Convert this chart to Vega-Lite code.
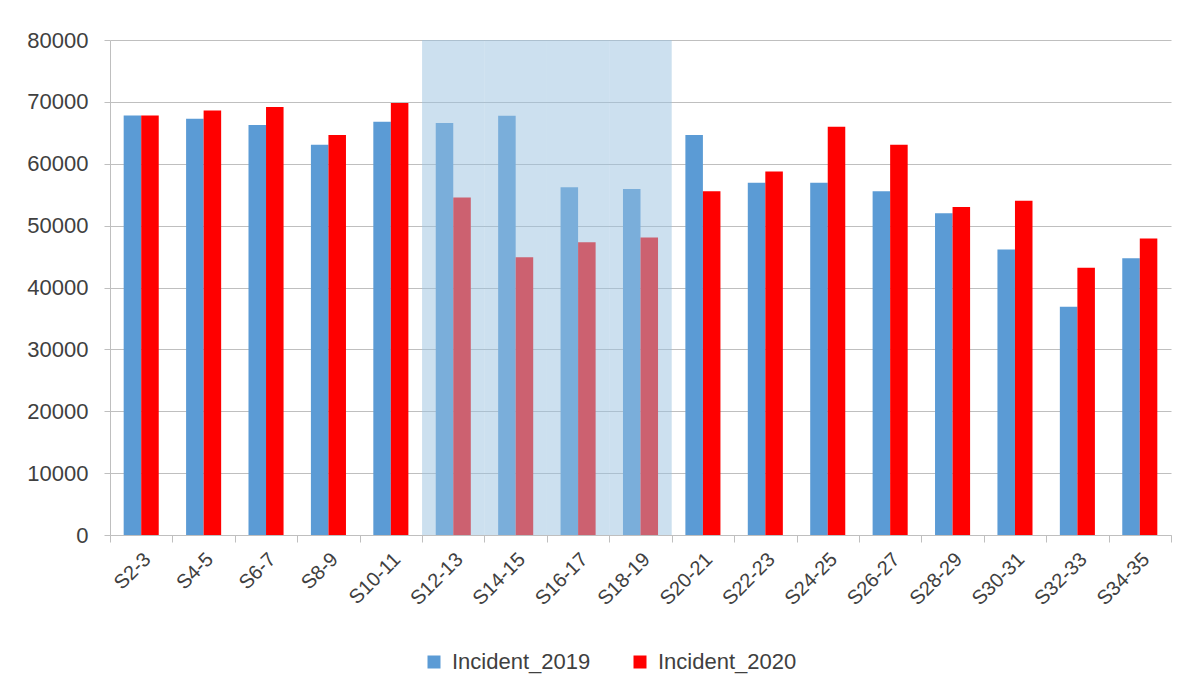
{
  "$schema": "https://vega.github.io/schema/vega-lite/v6.json",
  "autosize": {"type": "none"},
  "width": 1061,
  "height": 495,
  "padding": {"left": 110, "top": 40, "right": 15, "bottom": 158},
  "background": "white",
  "config": {
    "font": "Liberation Sans",
    "view": {"stroke": null},
    "axis": {"labelColor": "#404040", "labelFontSize": 22, "domainColor": "#bfbfbf", "tickColor": "#bfbfbf", "gridColor": "#bfbfbf"}
  },
  "datasets": {
    "incidents": [
      {"period": "S2-3", "series": "Incident_2019", "value": 67800},
      {"period": "S2-3", "series": "Incident_2020", "value": 67800},
      {"period": "S4-5", "series": "Incident_2019", "value": 67270},
      {"period": "S4-5", "series": "Incident_2020", "value": 68610},
      {"period": "S6-7", "series": "Incident_2019", "value": 66250},
      {"period": "S6-7", "series": "Incident_2020", "value": 69160},
      {"period": "S8-9", "series": "Incident_2019", "value": 63070},
      {"period": "S8-9", "series": "Incident_2020", "value": 64630},
      {"period": "S10-11", "series": "Incident_2019", "value": 66790},
      {"period": "S10-11", "series": "Incident_2020", "value": 69810},
      {"period": "S12-13", "series": "Incident_2019", "value": 66570},
      {"period": "S12-13", "series": "Incident_2020", "value": 54550},
      {"period": "S14-15", "series": "Incident_2019", "value": 67760},
      {"period": "S14-15", "series": "Incident_2020", "value": 44900},
      {"period": "S16-17", "series": "Incident_2019", "value": 56220},
      {"period": "S16-17", "series": "Incident_2020", "value": 47330},
      {"period": "S18-19", "series": "Incident_2019", "value": 55900},
      {"period": "S18-19", "series": "Incident_2020", "value": 48080},
      {"period": "S20-21", "series": "Incident_2019", "value": 64630},
      {"period": "S20-21", "series": "Incident_2020", "value": 55570},
      {"period": "S22-23", "series": "Incident_2019", "value": 56920},
      {"period": "S22-23", "series": "Incident_2020", "value": 58750},
      {"period": "S24-25", "series": "Incident_2019", "value": 56920},
      {"period": "S24-25", "series": "Incident_2020", "value": 65980},
      {"period": "S26-27", "series": "Incident_2019", "value": 55570},
      {"period": "S26-27", "series": "Incident_2020", "value": 63070},
      {"period": "S28-29", "series": "Incident_2019", "value": 52020},
      {"period": "S28-29", "series": "Incident_2020", "value": 52990},
      {"period": "S30-31", "series": "Incident_2019", "value": 46140},
      {"period": "S30-31", "series": "Incident_2020", "value": 54010},
      {"period": "S32-33", "series": "Incident_2019", "value": 36870},
      {"period": "S32-33", "series": "Incident_2020", "value": 43180},
      {"period": "S34-35", "series": "Incident_2019", "value": 44740},
      {"period": "S34-35", "series": "Incident_2020", "value": 47910}
    ],
    "highlight": [
      {"period": "S12-13"}, {"period": "S14-15"}, {"period": "S16-17"}, {"period": "S18-19"}
    ]
  },
  "layer": [
    {
      "data": {"name": "incidents"},
      "mark": {"type": "bar"},
      "encoding": {
        "x": {
          "field": "period", "type": "nominal", "sort": null, "title": null,
          "scale": {"domain": ["S2-3","S4-5","S6-7","S8-9","S10-11","S12-13","S14-15","S16-17","S18-19","S20-21","S22-23","S24-25","S26-27","S28-29","S30-31","S32-33","S34-35"], "paddingInner": 0, "paddingOuter": 0},
          "axis": {"labelAngle": -45, "labelAlign": "right", "labelBaseline": "middle", "labelPadding": 14, "labelOffset": 6, "labelFontSize": 20, "tickBand": "extent", "tickSize": 7, "grid": false}
        },
        "xOffset": {"field": "series", "type": "nominal", "scale": {"paddingInner": 0, "paddingOuter": 0.78}},
        "y": {
          "field": "value", "type": "quantitative", "title": null,
          "scale": {"domain": [0, 80000], "nice": false},
          "axis": {"values": [0,10000,20000,30000,40000,50000,60000,70000,80000], "tickSize": 6, "labelPadding": 16, "grid": true, "format": "d"}
        },
        "color": {
          "field": "series", "type": "nominal",
          "scale": {"domain": ["Incident_2019", "Incident_2020"], "range": ["#5b9bd5", "#ff0000"]},
          "legend": {"orient": "none", "legendX": 313, "legendY": 611, "direction": "horizontal", "title": null, "symbolType": "square", "symbolSize": 169, "symbolStrokeWidth": 0, "labelFontSize": 22, "labelColor": "#404040", "labelOffset": 7, "columnPadding": 38}
        }
      }
    },
    {
      "data": {"name": "highlight"},
      "mark": {"type": "rect", "color": "#9ac2df", "opacity": 0.5},
      "encoding": {
        "x": {"field": "period", "type": "nominal", "sort": null},
        "y": {"datum": 80000},
        "y2": {"datum": 0}
      }
    }
  ]
}
